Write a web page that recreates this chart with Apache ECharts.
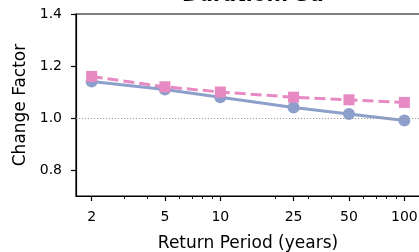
<!DOCTYPE html>
<html>
<head>
<meta charset="utf-8">
<script src="https://cdn.jsdelivr.net/npm/echarts@6/dist/echarts.min.js"></script>
<style>html,body{margin:0;padding:0;background:#fff;}#c{width:419px;height:252px;}</style>
</head>
<body>
<div id="c"></div>
<script>
const returnPeriods = [2, 5, 10, 25, 50, 100];
const seriesA = [1.14, 1.11, 1.08, 1.04, 1.015, 0.99];
const seriesB = [1.16, 1.12, 1.10, 1.08, 1.07, 1.06];
const xTickValues = [2, 5, 10, 25, 50, 100];
const xMinorTickValues = [3, 4, 6, 7, 8, 9, 20, 30, 40, 60, 70, 80, 90];
const yTickValues = [0.8, 1.0, 1.2, 1.4];
const titleText = 'Duration: 3d';

const font = 'DejaVu Sans';
const chart = echarts.init(document.getElementById('c'), null, {renderer: 'canvas'});
chart.setOption({
  animation: false,
  backgroundColor: '#fff',
  title: {
    text: titleText, left: 248, top: -19, textAlign: 'center',
    textStyle: {fontFamily: font, fontSize: 20, fontWeight: 'bold', color: '#000'}
  },
  grid: {left: 76, top: 14, right: -1, bottom: 56, containLabel: false, outerBoundsMode: 'none',
    show: true, borderColor: '#000', borderWidth: 1.2, backgroundColor: 'transparent'},
  xAxis: [{
    type: 'log', logBase: 10, min: 1.644, max: 121.6,
    name: 'Return Period (years)', nameLocation: 'middle', nameGap: 39,
    nameTextStyle: {fontFamily: font, fontSize: 17, color: '#000'},
    axisLine: {show: true, lineStyle: {color: '#000', width: 1.2}},
    axisTick: {show: true, customValues: xTickValues, length: 5, lineStyle: {color: '#000', width: 1.2}},
    axisLabel: {customValues: xTickValues, fontFamily: font, fontSize: 14, color: '#000', margin: 14},
    splitLine: {show: false}, minorTick: {show: false}
  }, {
    type: 'log', logBase: 10, min: 1.644, max: 121.6, position: 'bottom',
    axisLine: {show: false},
    axisTick: {show: true, customValues: xMinorTickValues, length: 3, lineStyle: {color: '#000', width: 0.9}},
    axisLabel: {show: false},
    splitLine: {show: false}
  }],
  yAxis: {
    type: 'value', min: 0.7, max: 1.4,
    name: 'Change Factor', nameLocation: 'middle', nameGap: 45,
    nameTextStyle: {fontFamily: font, fontSize: 17, color: '#000'},
    axisLine: {show: true, lineStyle: {color: '#000', width: 1.2}},
    axisTick: {show: true, customValues: yTickValues, length: 5, lineStyle: {color: '#000', width: 1.2}},
    axisLabel: {customValues: yTickValues, fontFamily: font, fontSize: 14, color: '#000', margin: 14,
      formatter: v => v.toFixed(1)},
    splitLine: {show: false}
  },
  series: [{
    name: 'A', type: 'line', xAxisIndex: 0,
    data: returnPeriods.map((x, i) => [x, seriesA[i]]),
    symbol: 'circle', symbolSize: 12,
    lineStyle: {color: '#8da0cb', width: 3},
    itemStyle: {color: '#8da0cb'},
    markLine: {
      silent: true, symbol: 'none', label: {show: false},
      lineStyle: {color: '#999', type: [1.2, 1.8], width: 1.2},
      data: [{yAxis: 1.0}]
    },
    z: 2
  }, {
    name: 'B', type: 'line', xAxisIndex: 0,
    data: returnPeriods.map((x, i) => [x, seriesB[i]]),
    symbol: 'rect', symbolSize: 11,
    lineStyle: {color: '#e78ac3', width: 3, type: [11, 5]},
    itemStyle: {color: '#e78ac3'},
    z: 3
  }]
});
</script>
</body>
</html>
